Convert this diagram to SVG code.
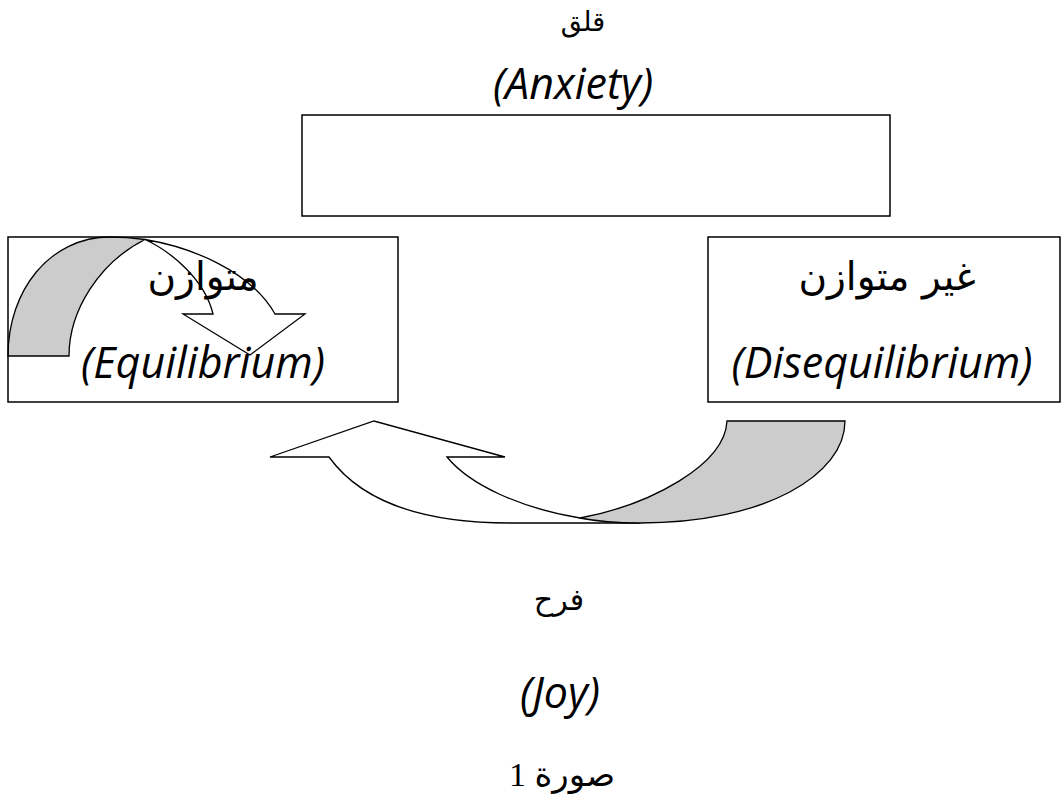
<svg xmlns="http://www.w3.org/2000/svg" width="1062" height="807" viewBox="0 0 1062 807">
<style>
.box{fill:none;stroke:#000;stroke-width:1.5}
.arw{fill:#fff;stroke:#000;stroke-width:1.3;stroke-linejoin:miter}
.back{fill:#cccccc;stroke:#000;stroke-width:1.3}
.en{font-family:"Open Sans","Liberation Sans",sans-serif;font-style:italic;font-size:43px;fill:#000;text-anchor:middle}
.ar{font-family:"DejaVu Sans","Noto Sans",sans-serif;fill:#000;text-anchor:middle}
.cap{font-family:"Liberation Serif","DejaVu Sans",serif;fill:#000;text-anchor:middle}
</style>
<rect width="1062" height="807" fill="#fff"/>
<g id="connectors">
  <g id="arrow-equilibrium-loop">
    <path class="arw" d="M145,239.5 C190,247 250,270 275,314 L305,314 L250,355 L183,314 L213,314 C205,280 172,252 145,239.5 Z"/>
    <path class="back" d="M8,356 C8,290 50,237 110,237 C122,237 134,238 145,239.5 C100,262 69,310 69,356 Z"/>
  </g>
  <g id="arrow-diseq-to-eq">
    <path class="arw" d="M270,457 L374,421 L505,457 L447,457 C470,485 520,508 580,518 L640,523 L510,523 C420,523 360,500 329,457 Z"/>
    <path class="back" d="M727,421 L845,421 C845,475 765,523 640,523 Q605,523 580,518 C650,505 725,465 727,421 Z"/>
  </g>
</g>
<g id="node-anxiety">
  <text class="ar" x="583" y="31" font-size="27">قلق</text>
  <text class="en" x="573" y="99">(Anxiety)</text>
  <rect class="box" x="302" y="115" width="588" height="101"/>
</g>
<g id="node-equilibrium">
  <rect class="box" x="8" y="237" width="390" height="165"/>
  <text class="ar" x="203" y="290" font-size="39">متوازن</text>
  <text class="en" x="203" y="378">(Equilibrium)</text>
</g>
<g id="node-disequilibrium">
  <rect class="box" x="708" y="237" width="352" height="165"/>
  <text class="ar" x="887" y="290" font-size="39">غير متوازن</text>
  <text class="en" x="882" y="378">(Disequilibrium)</text>
</g>
<g id="node-joy">
  <text class="ar" x="559" y="610" font-size="30">فرح</text>
  <text class="en" x="560" y="708">(Joy)</text>
</g>
<g id="caption">
  <text class="cap" x="562" y="786" font-size="34">صورة 1</text>
</g>
</svg>
